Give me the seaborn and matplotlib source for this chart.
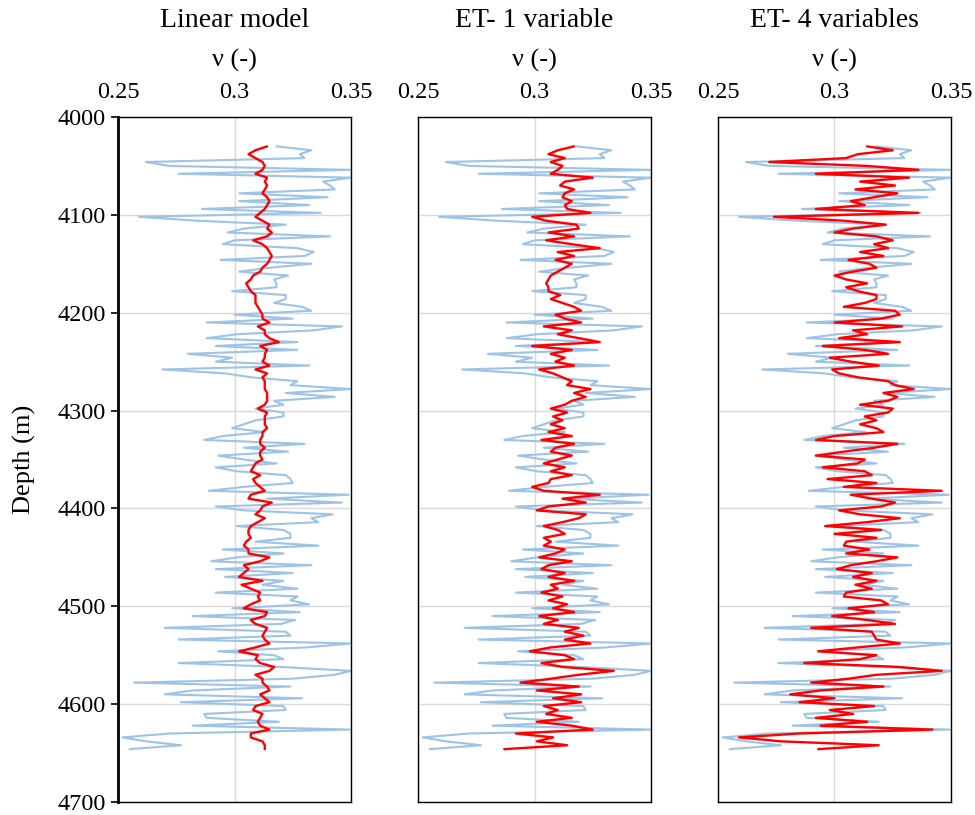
import matplotlib
matplotlib.use("Agg")
import matplotlib.pyplot as plt
import seaborn as sns
import pandas as pd

sns.set_theme(style="white")
plt.rcParams['font.family'] = ['Liberation Serif', 'DejaVu Serif']
plt.rcParams['text.color'] = 'black'
plt.rcParams['axes.labelcolor'] = 'black'
plt.rcParams['xtick.color'] = 'black'
plt.rcParams['ytick.color'] = 'black'

titles = ["Linear model", "ET- 1 variable", "ET- 4 variables"]
xlabel = "ν (-)"
ylabel = "Depth (m)"
xticks = [0.25, 0.30, 0.35]
xticklabels = ["0.25", "0.3", "0.35"]
yticks = [4000, 4100, 4200, 4300, 4400, 4500, 4600, 4700]

depth = [4030, 4034, 4038, 4042, 4046, 4050, 4054, 4058, 4062, 4066,
         4070, 4074, 4078, 4082, 4086, 4090, 4094, 4098, 4102, 4106,
         4110, 4114, 4118, 4122, 4126, 4130, 4134, 4138, 4142, 4146,
         4150, 4154, 4158, 4162, 4166, 4170, 4174, 4178, 4182, 4186,
         4190, 4194, 4198, 4202, 4206, 4210, 4214, 4218, 4222, 4226,
         4230, 4234, 4238, 4242, 4246, 4250, 4254, 4258, 4262, 4266,
         4270, 4274, 4278, 4282, 4286, 4290, 4294, 4298, 4302, 4306,
         4310, 4314, 4318, 4322, 4326, 4330, 4334, 4338, 4342, 4346, 4350,
         4354, 4358, 4362, 4366, 4370, 4374, 4378, 4382, 4386, 4390,
         4394, 4398, 4402, 4406, 4410, 4414, 4418, 4422, 4426, 4430,
         4434, 4438, 4442, 4446, 4450, 4454, 4458, 4462, 4466, 4470,
         4474, 4478, 4482, 4486, 4490, 4494, 4498, 4502, 4506, 4510,
         4514, 4518, 4522, 4526, 4530, 4534, 4538, 4542, 4546, 4550,
         4554, 4558, 4562, 4566, 4570, 4574, 4578, 4582, 4586, 4590,
         4594, 4598, 4602, 4606, 4610, 4614, 4618, 4622, 4626, 4630,
         4634, 4638, 4642, 4646]

measured = [0.318, 0.333, 0.328, 0.330, 0.262, 0.272, 0.350, 0.276, 0.350, 0.338,
            0.341, 0.343, 0.302, 0.340, 0.302, 0.332, 0.286, 0.337, 0.259, 0.284,
            0.322, 0.304, 0.297, 0.341, 0.300, 0.295, 0.327, 0.334, 0.330, 0.294,
            0.333, 0.315, 0.302, 0.323, 0.317, 0.318, 0.318, 0.299, 0.322, 0.322,
            0.317, 0.329, 0.333, 0.300, 0.325, 0.288, 0.346, 0.334, 0.301, 0.288,
            0.327, 0.292, 0.327, 0.280, 0.299, 0.292, 0.332, 0.269, 0.296, 0.307,
            0.327, 0.324, 0.350, 0.322, 0.343, 0.317, 0.321, 0.309, 0.321, 0.321,
            0.309, 0.304, 0.299, 0.313, 0.295, 0.287, 0.330, 0.304, 0.323, 0.293, 0.304,
            0.318, 0.292, 0.301, 0.322, 0.324, 0.325, 0.304, 0.289, 0.349, 0.314,
            0.346, 0.292, 0.304, 0.342, 0.333, 0.336, 0.301, 0.321, 0.324, 0.324,
            0.309, 0.336, 0.295, 0.321, 0.301, 0.290, 0.333, 0.292, 0.325, 0.296,
            0.321, 0.312, 0.327, 0.292, 0.327, 0.324, 0.332, 0.299, 0.328, 0.282,
            0.326, 0.320, 0.270, 0.322, 0.324, 0.276, 0.350, 0.331, 0.293, 0.317,
            0.321, 0.276, 0.320, 0.350, 0.343, 0.325, 0.257, 0.324, 0.282, 0.270,
            0.329, 0.277, 0.321, 0.322, 0.287, 0.288, 0.319, 0.282, 0.350, 0.272,
            0.252, 0.262, 0.277, 0.255]

pred_linear = [0.314, 0.309, 0.306, 0.309, 0.312, 0.313, 0.312, 0.309, 0.314, 0.313,
               0.314, 0.313, 0.312, 0.314, 0.315, 0.314, 0.313, 0.311, 0.309, 0.312,
               0.315, 0.314, 0.316, 0.314, 0.308, 0.312, 0.314, 0.315, 0.316, 0.315,
               0.314, 0.312, 0.311, 0.308, 0.307, 0.305, 0.306, 0.307, 0.309, 0.309,
               0.309, 0.310, 0.311, 0.312, 0.312, 0.315, 0.310, 0.313, 0.313, 0.315,
               0.319, 0.311, 0.314, 0.313, 0.313, 0.312, 0.315, 0.309, 0.314, 0.312,
               0.313, 0.313, 0.313, 0.314, 0.314, 0.314, 0.313, 0.310, 0.314, 0.313,
               0.313, 0.313, 0.314, 0.312, 0.312, 0.311, 0.311, 0.313, 0.311, 0.311, 0.312,
               0.309, 0.308, 0.307, 0.311, 0.308, 0.309, 0.311, 0.313, 0.307, 0.306,
               0.316, 0.312, 0.311, 0.309, 0.313, 0.310, 0.307, 0.306, 0.306, 0.307,
               0.305, 0.304, 0.306, 0.306, 0.315, 0.311, 0.304, 0.306, 0.304, 0.302,
               0.312, 0.303, 0.307, 0.311, 0.310, 0.311, 0.307, 0.304, 0.314, 0.313,
               0.307, 0.309, 0.314, 0.313, 0.312, 0.313, 0.315, 0.309, 0.302, 0.310,
               0.309, 0.311, 0.317, 0.315, 0.309, 0.312, 0.312, 0.314, 0.315, 0.311,
               0.313, 0.315, 0.309, 0.308, 0.312, 0.311, 0.310, 0.311, 0.315, 0.307,
               0.307, 0.312, 0.313, 0.313]

pred_et1 = [0.317, 0.310, 0.306, 0.313, 0.307, 0.312, 0.310, 0.307, 0.325, 0.313,
            0.311, 0.317, 0.313, 0.312, 0.316, 0.313, 0.314, 0.324, 0.299, 0.305,
            0.318, 0.319, 0.306, 0.317, 0.305, 0.316, 0.328, 0.310, 0.317, 0.309,
            0.316, 0.313, 0.310, 0.307, 0.306, 0.305, 0.306, 0.306, 0.311, 0.307,
            0.312, 0.317, 0.320, 0.309, 0.313, 0.320, 0.304, 0.316, 0.310, 0.319,
            0.328, 0.299, 0.316, 0.307, 0.313, 0.309, 0.317, 0.302, 0.308, 0.312,
            0.316, 0.314, 0.324, 0.317, 0.322, 0.316, 0.313, 0.307, 0.314, 0.308,
            0.312, 0.307, 0.313, 0.306, 0.316, 0.303, 0.317, 0.309, 0.307, 0.316, 0.310,
            0.304, 0.313, 0.307, 0.316, 0.307, 0.306, 0.299, 0.304, 0.328, 0.312,
            0.322, 0.306, 0.301, 0.322, 0.319, 0.312, 0.304, 0.310, 0.313, 0.304,
            0.307, 0.304, 0.313, 0.309, 0.302, 0.316, 0.306, 0.303, 0.313, 0.306,
            0.317, 0.307, 0.310, 0.303, 0.312, 0.306, 0.314, 0.308, 0.317, 0.302,
            0.310, 0.304, 0.319, 0.313, 0.321, 0.313, 0.324, 0.307, 0.298, 0.313,
            0.317, 0.303, 0.312, 0.334, 0.319, 0.307, 0.294, 0.319, 0.301, 0.320,
            0.308, 0.320, 0.304, 0.310, 0.305, 0.316, 0.301, 0.316, 0.325, 0.292,
            0.308, 0.301, 0.314, 0.287]

pred_et4 = [0.314, 0.325, 0.310, 0.305, 0.272, 0.314, 0.336, 0.292, 0.332, 0.311,
            0.326, 0.309, 0.327, 0.317, 0.307, 0.313, 0.292, 0.336, 0.274, 0.304,
            0.322, 0.308, 0.300, 0.318, 0.325, 0.317, 0.323, 0.311, 0.321, 0.306,
            0.315, 0.318, 0.308, 0.300, 0.305, 0.314, 0.305, 0.310, 0.318, 0.318,
            0.313, 0.304, 0.326, 0.328, 0.320, 0.300, 0.329, 0.308, 0.314, 0.302,
            0.328, 0.295, 0.313, 0.323, 0.298, 0.307, 0.319, 0.299, 0.302, 0.310,
            0.323, 0.326, 0.334, 0.321, 0.327, 0.323, 0.311, 0.325, 0.323, 0.313,
            0.318, 0.311, 0.318, 0.321, 0.300, 0.292, 0.327, 0.317, 0.304, 0.292, 0.313,
            0.310, 0.295, 0.313, 0.316, 0.297, 0.318, 0.304, 0.346, 0.307, 0.316,
            0.326, 0.320, 0.302, 0.311, 0.328, 0.314, 0.296, 0.320, 0.300, 0.318,
            0.305, 0.304, 0.315, 0.305, 0.327, 0.318, 0.307, 0.301, 0.316, 0.308,
            0.318, 0.309, 0.316, 0.305, 0.304, 0.320, 0.323, 0.306, 0.317, 0.299,
            0.314, 0.326, 0.290, 0.316, 0.317, 0.318, 0.328, 0.310, 0.293, 0.318,
            0.311, 0.287, 0.328, 0.346, 0.318, 0.306, 0.290, 0.321, 0.294, 0.281,
            0.300, 0.285, 0.317, 0.298, 0.308, 0.292, 0.314, 0.294, 0.342, 0.285,
            0.259, 0.277, 0.319, 0.293]

df = pd.DataFrame({"depth": depth, "measured": measured, "Linear model": pred_linear,
                   "ET- 1 variable": pred_et1, "ET- 4 variables": pred_et4})

W, H = 975, 815
fig = plt.figure(figsize=(W / 100, H / 100), dpi=100)
lefts = [118, 418, 718]
top_px, bot_px, width_px = 117, 802, 233

blue = "#9dc3e6"
red = "#ff0000"

for i, (title, left) in enumerate(zip(titles, lefts)):
    ax = fig.add_axes([left / W, (H - bot_px) / H, width_px / W, (bot_px - top_px) / H])
    sns.lineplot(data=df, x="measured", y="depth", orient="y", sort=False, estimator=None,
                 color=blue, linewidth=1.5, ax=ax)
    sns.lineplot(data=df, x=title, y="depth", orient="y", sort=False, estimator=None,
                 color=red, linewidth=1.7, ax=ax)
    ax.set_xlim(0.25, 0.35)
    ax.set_ylim(4700, 4000)
    ax.set_xticks(xticks)
    ax.set_xticklabels(xticklabels)
    ax.set_yticks(yticks)
    ax.xaxis.tick_top()
    ax.xaxis.set_label_position("top")
    ax.set_xlabel(xlabel, fontsize=19, labelpad=11)
    ax.set_title(title, fontsize=20, pad=16)
    ax.grid(True, color="#d9d9d9", linewidth=1.0)
    ax.set_axisbelow(True)
    for s in ax.spines.values():
        s.set_color("black")
        s.set_linewidth(1.0)
    ax.tick_params(axis="x", labelsize=17.5, length=0, pad=10, colors="black")
    if i == 0:
        ax.spines["left"].set_linewidth(2.0)
        ax.set_ylabel(ylabel, fontsize=19, labelpad=15)
        ax.tick_params(axis="y", labelsize=17.5, length=5, width=1.2, direction="out",
                       colors="black", left=True, pad=4)
    else:
        ax.set_ylabel("")
        ax.set_yticklabels([])
        ax.tick_params(axis="y", length=0)

fig.savefig("out.png", dpi=100)
